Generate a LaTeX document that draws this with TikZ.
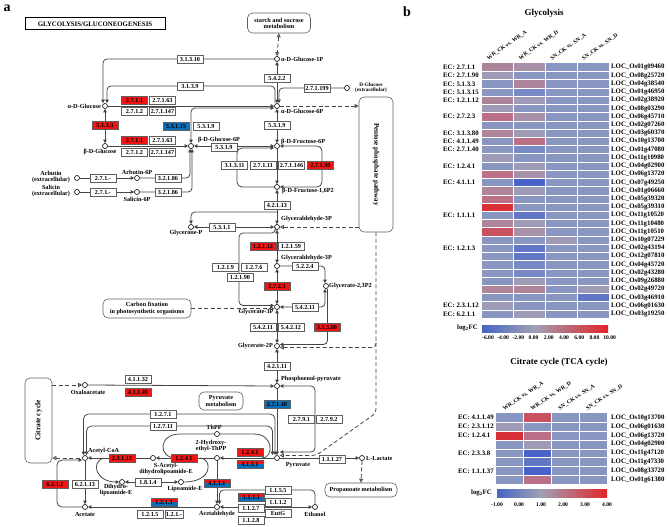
\documentclass[tikz,border=0pt]{standalone}
\usepackage{fontspec}
\setmainfont{Liberation Serif}
\usetikzlibrary{arrows.meta,positioning,calc}
\definecolor{keggred}{RGB}{240,20,20}
\definecolor{keggblue}{RGB}{10,110,185}
\definecolor{boxgray}{RGB}{95,95,95}
\definecolor{linegray}{RGB}{70,70,70}
% heatmap palette
\definecolor{hnb}{RGB}{138,150,194}
\definecolor{hgy}{RGB}{158,155,182}
\definecolor{hgm}{RGB}{166,145,168}
\definecolor{hmv}{RGB}{174,132,154}
\definecolor{hpk}{RGB}{186,112,134}
\definecolor{hrr}{RGB}{200,82,96}
\definecolor{hrd}{RGB}{216,48,54}
\definecolor{hlb}{RGB}{120,138,198}
\definecolor{hbl}{RGB}{98,118,198}
\definecolor{hdb}{RGB}{72,98,202}
\definecolor{cbblue}{RGB}{68,102,196}
\definecolor{cbgray}{RGB}{160,160,180}
\definecolor{cbred}{RGB}{226,36,40}
\newcommand{\kf}{\fontsize{6.2}{6.2}\selectfont\bfseries}
\newcommand{\hf}{\fontsize{6.8}{7}\selectfont\bfseries}
\newcommand{\hdf}{\fontsize{5.6}{6}\selectfont\bfseries}

\begin{document}
\begin{tikzpicture}[x=1pt, y=-1pt,
    >={Triangle[length=3.5pt,width=3.5pt]},
    met/.style={circle, draw, fill=white, line width=0.6pt, inner sep=0pt, minimum size=5pt},
    lbl/.style={font=\kf, inner sep=0pt, align=center},
    ec/.style={draw=boxgray, fill=white, line width=0.5pt, inner sep=0pt, minimum width=26pt, minimum height=8pt, font=\kf},
    ecr/.style={ec, fill=keggred},
    ecb/.style={ec, fill=keggblue},
    ecrb/.style={ec, fill=keggred, path picture={\fill[keggblue] (path picture bounding box.south west) rectangle ([yshift=4pt]path picture bounding box.south east);}},
    mapbox/.style={draw=boxgray, rounded corners=5pt, line width=0.6pt, align=center, font=\kf, inner sep=1pt},
    rxn/.style={draw=linegray, line width=0.8pt},
    dlink/.style={draw=linegray, line width=0.8pt, dash pattern=on 4pt off 2.5pt},
    odash/.style={dlink, -{Triangle[open,length=4pt,width=4pt]}},
    odashr/.style={dlink, {Triangle[open,length=4pt,width=4pt]}-},
    hmlbl/.style={font=\hf, inner sep=0pt, anchor=west},
    hdr/.style={font=\hdf, inner sep=0pt, anchor=south west, rotate=35},
    tick/.style={font=\hdf, inner sep=0pt},
]
\useasboundingbox (0,0) rectangle (669,527);

% ================= a : pathway map =================
\node[font=\fontsize{14}{14}\selectfont\bfseries, inner sep=0pt] (lbla) at (7,8) {a};
\node[draw, line width=1pt, minimum width=140pt, minimum height=12pt, inner sep=0pt, font=\fontsize{6.8}{7}\selectfont\bfseries] (title) at (95,24) {GLYCOLYSIS/GLUCONEOGENESIS};

% map links
\node[mapbox, minimum width=63pt, minimum height=20pt] (starch) at (279,23) {starch and sucrose\\metabolism};
\node[mapbox, minimum width=34pt, minimum height=135pt] (ppp) at (376,164.5) {};
\node[font=\fontsize{7}{7}\selectfont\bfseries, rotate=-90, inner sep=0pt] (ppptxt) at (ppp.center) {Pentose phosphate pathway};
\node[mapbox, minimum width=88pt, minimum height=19pt] (cfix) at (147,308.5) {Carbon fixation\\in photosynthetic organisms};
\node[mapbox, minimum width=44pt, minimum height=18pt] (pyrmet) at (221,401) {Pyruvate\\metabolism};
\node[mapbox, minimum width=27pt, minimum height=85pt] (tca) at (38.5,420.5) {};
\node[font=\fontsize{7.5}{7.5}\selectfont\bfseries, rotate=90, inner sep=0pt] (tcatxt) at (tca.center) {Citrate cycle};
\node[mapbox, minimum width=72pt, minimum height=14pt] (prop) at (361,490) {Propanoate metabolism};

% compounds
\node[met] (glc1p) at (277,59) {};
\node[lbl, anchor=west] (lglc1p) at (281,59) {α-D-Glucose-1P};
\node[met] (dglc) at (347,88) {};
\node[lbl, font=\fontsize{5.2}{5}\selectfont\bfseries] (ldglc) at (371,88) {D-Glucose\\(extracellular)};
\node[met] (aglc) at (105,106) {};
\node[lbl, anchor=east] (laglc) at (101,106) {α-D-Glucose};
\node[met] (g6p) at (277,106) {};
\node[lbl, anchor=west] (lg6p) at (281,111) {α-D-Glucose-6P};
\node[met] (bglc) at (105,146) {};
\node[lbl] (lbglc) at (100,152) {β-D-Glucose};
\node[met] (bg6p) at (191,146) {};
\node[lbl] (lbg6p) at (219,139.5) {β-D-Glucose-6P};
\node[met] (f6p) at (277,146) {};
\node[lbl, anchor=west] (lf6p) at (281,142) {β-D-Fructose-6P};
\node[met] (fbp) at (277,187) {};
\node[lbl, anchor=west] (lfbp) at (282,191) {β-D-Fructose-1,6P2};
\node[met] (arbe) at (77,178) {};
\node[lbl] (larbe) at (51,177) {Arbutin\\(extracellular)};
\node[met] (arb6p) at (137,178) {};
\node[lbl] (larb6p) at (137,172) {Arbutin-6P};
\node[met] (sale) at (77,192) {};
\node[lbl] (lsale) at (51,191) {Salicin\\(extracellular)};
\node[met] (sal6p) at (137,192) {};
\node[lbl] (lsal6p) at (137,199) {Salicin-6P};
\node[met] (gap) at (277,227) {};
\node[lbl, anchor=west] (lgap) at (281,219) {Glyceraldehyde-3P};
\node[met] (dhap) at (191,227) {};
\node[lbl] (ldhap) at (186,233) {Glycerone-P};
\node[met] (bpg) at (277,266) {};
\node[lbl, anchor=west] (lbpg) at (281,258) {Glyceraldehyde-3P};
\node[met] (g23p) at (326,286) {};
\node[lbl, anchor=west] (lg23p) at (329,286) {Glycerate-2,3P2};
\node[met] (g3p) at (277,307) {};
\node[lbl] (lg3p) at (256,312) {Glycerate-3P};
\node[met] (g2p) at (277,346) {};
\node[lbl, anchor=east] (lg2p) at (273,346) {Glycerate-2P};
\node[met] (pep) at (277,386) {};
\node[lbl, anchor=west] (lpep) at (281,379) {Phosphoenol-pyruvate};
\node[met] (pyr) at (277,458) {};
\node[lbl] (lpyr) at (298,465) {Pyruvate};
\node[met] (lac) at (362,458) {};
\node[lbl, anchor=west] (llac) at (366,458) {L-Lactate};
\node[met] (oaa) at (85,385) {};
\node[lbl] (loaa) at (88,392) {Oxaloacetate};
\node[met] (accoa) at (85,458) {};
\node[lbl, anchor=west] (laccoa) at (88,451) {Acetyl-CoA};
\node[met] (thpp) at (217,434) {};
\node[lbl] (lthpp) at (214,427) {ThPP};
\node[met] (hethpp) at (217,458) {};
\node[lbl] (lhethpp) at (211,446) {2-Hydroxy-\\ethyl-ThPP};
\node[met] (sacet) at (153,458) {};
\node[lbl] (lsacet) at (166,469) {S-Acetyl-\\dihydrolipoamide-E};
\node[met] (dhlip) at (122,482) {};
\node[lbl] (ldhlip) at (116,490) {Dihydro-\\lipoamide-E};
\node[met] (lip) at (181,482) {};
\node[lbl] (llip) at (185,489) {Lipoamide-E};
\node[met] (acald) at (217,507) {};
\node[lbl] (lacald) at (217,514) {Acetaldehyde};
\node[met] (acet) at (85,507) {};
\node[lbl] (lacet) at (85,514) {Acetate};
\node[met] (etoh) at (315,507) {};
\node[lbl] (letoh) at (315,514) {Ethanol};

% reactions: glucose / glucose-6P
\draw[dlink, {Triangle[open,length=4pt,width=4pt]}-{Triangle[open,length=4pt,width=4pt]}] (starch.south) -- (glc1p.north);
\draw[rxn, ->, rounded corners=4pt] (glc1p.west) -| ([xshift=-2pt]aglc.north);
\draw[rxn, <->] (glc1p.south) -- (g6p.north);
\draw[rxn, ->, rounded corners=4pt] ([xshift=-2pt]g6p.north) |- (150,86) -| ([xshift=2pt]aglc.north);
\draw[rxn, ->, rounded corners=4pt] (dglc.west) -| ([xshift=2pt]g6p.north);
\draw[rxn, ->] (aglc.east) -- (g6p.west);
\draw[rxn, <->, rounded corners=4pt] (bg6p.north) |- ([yshift=-2pt]g6p.west);
\draw[odash] (g6p.east) -- (g6p.east -| ppp.west);
\draw[rxn, <->] (aglc.south) -- (bglc.north);
\draw[rxn, ->] (bglc.east) -- (bg6p.west);
\draw[rxn, <->] (bg6p.east) -- (f6p.west);
\draw[rxn, <->] (g6p.south) -- (f6p.north);
\draw[rxn, ->] (arbe.east) -- (arb6p.west);
\draw[rxn, ->, rounded corners=4pt] (arb6p.east) -| ([xshift=-1pt]bg6p.south);
\draw[rxn, ->] (sale.east) -- (sal6p.west);
\draw[rxn, ->, rounded corners=4pt] (sal6p.east) -| ([xshift=1pt]bg6p.south);

% fructose and trioses
\draw[rxn, ->] (f6p.south) -- (fbp.north);
\draw[rxn, ->, rounded corners=5pt] (fbp.west) -| (237,148) -- ([yshift=-2pt]f6p.west);
\draw[rxn, <->, rounded corners=5pt] (f6p.east) -| (322,187) -- (fbp.east);
\draw[rxn, <->] (fbp.south) -- (gap.north);
\coordinate (aldol) at (277,212);
\draw[rxn, ->, rounded corners=4pt] (aldol) -| (dhap.north);
\draw[rxn, <->] (gap.west) -- (dhap.east);
\draw[odashr] (gap.east) -- (gap.east -| ppp.west);
\draw[rxn, <->] (gap.south) -- (bpg.north);
\draw[rxn, ->, rounded corners=4pt] ([xshift=-1.5pt]gap.south) |- (239,233) |- ([yshift=1.5pt]g3p.west);
\draw[rxn, <->] (bpg.south) -- (g3p.north);
\draw[rxn, ->, rounded corners=4pt] (bpg.east) -| ([xshift=-1pt]g23p.north);
\draw[rxn, <->, rounded corners=4pt] (g3p.east) -| ([xshift=-1pt]g23p.south);
\draw[rxn, ->, rounded corners=4pt] ([xshift=1.5pt]g23p.south) |- ([yshift=1.5pt]g2p.east);
\draw[odash] (cfix.east) -- ([yshift=-1.5pt]g3p.west);
\draw[rxn, <->] (g3p.south) -- (g2p.north);
\draw[rxn, <->] (g2p.south) -- (pep.north);
\draw[odashr, rounded corners=4pt] ([yshift=-1.5pt]g2p.east) -| (376,340);
\draw[odash, rounded corners=4pt] (ppp.south) -- (376,413) -- (316,455.5) -- ([yshift=2.5pt]pyr.east);

% pyruvate
\draw[rxn, ->] (oaa.east) -- (pep.west);
\draw[odash] (tca.east |- oaa) -- (oaa.west);
\draw[rxn, ->] (pep.south) -- (pyr.north);
\draw[rxn, <->, rounded corners=4pt] (pep.east) -| (315,452) -- ([yshift=6pt]pyr.east);
\draw[rxn, <->, rounded corners=5pt] ([xshift=-2pt]pyr.north) |- (150,414) -| ([xshift=-1.5pt]accoa.north);
\draw[rxn, <->, rounded corners=5pt] ([xshift=-4.5pt]pyr.north) |- (150,426) -| ([xshift=1.5pt]accoa.north);
\draw[odashr] (tca.east |- accoa) -- (accoa.west);
\draw[rxn, ->] (sacet.west) -- (accoa.east);
\draw[rxn, ->] (pyr.west) -- (hethpp.east);
\draw[rxn, ->] (hethpp.west) -- (sacet.east);
\coordinate (thl) at (176,458);
\coordinate (thr) at (262,458);
\draw[rxn] (thpp.west) -- (180,434) .. controls (158,434) and (158,458) .. (thl);
\draw[rxn] (thpp.east) -- (254,434) .. controls (274,434) and (274,458) .. (thr);
\coordinate (lipl) at (104,458);
\coordinate (lipr) at (200,458);
\draw[rxn, ->] (lipl) .. controls (90,462) and (96,482) .. (dhlip.west);
\draw[rxn, <->] (dhlip.east) -- (lip.west);
\draw[rxn] (lip.east) .. controls (214,482) and (212,458) .. (lipr);
\draw[rxn, ->] (accoa.south) -- (acet.north);
\draw[rxn, ->, rounded corners=5pt] (acet.west) -| (57,460) -- ([yshift=-2pt]accoa.west);
\draw[rxn, ->] (hethpp.south) -- (acald.north);
\draw[rxn, ->] (acald.west) -- (acet.east);
\draw[rxn, <->] (acald.east) -- (etoh.west);
\draw[rxn, ->, rounded corners=4pt] (etoh.north) |- (240,490) -| ([xshift=2.5pt]acald.north);
\draw[rxn, ->] (pyr.east) -- (lac.west);
\draw[odash] (lac.south) -- (prop.north);

% enzymes
\node[ec] (e31310) at (190,59) {3.1.3.10};
\node[ec] (e5422) at (277,78) {5.4.2.2};
\node[ec] (e3139) at (190,86) {3.1.3.9};
\node[ec] (e271199) at (317,88) {2.7.1.199};
\node[ecr] (e2711a) at (134.5,100) {2.7.1.1};
\node[ec] (e27163a) at (162.5,100) {2.7.1.63};
\node[ec] (e2712a) at (134.5,111.5) {2.7.1.2};
\node[ec] (e271147a) at (162.5,111.5) {2.7.1.147};
\node[ecr] (e5133) at (105,125) {5.1.3.3};
\node[ecb] (e53115) at (176,126) {5.3.1.15};
\node[ec] (e5319a) at (206,126) {5.3.1.9};
\node[ec] (e5319b) at (277,125) {5.3.1.9};
\node[ecr] (e2711b) at (134.5,140) {2.7.1.1};
\node[ec] (e27163b) at (162.5,140) {2.7.1.63};
\node[ec] (e2712b) at (134.5,152) {2.7.1.2};
\node[ec] (e271147b) at (162.5,152) {2.7.1.147};
\node[ec] (e5319c) at (224,147.5) {5.3.1.9};
\node[ec] (e271a) at (103,178) {2.7.1.-};
\node[ec] (e32186a) at (168,178) {3.2.1.86};
\node[ec] (e271b) at (103,192) {2.7.1.-};
\node[ec] (e32186b) at (168,192) {3.2.1.86};
\node[ec] (e31311) at (234.5,165) {3.1.3.11};
\node[ec] (e27111) at (263,165) {2.7.1.11};
\node[ec] (e271146) at (291.5,165) {2.7.1.146};
\node[ecr] (e27190) at (320.5,165) {2.7.1.90};
\node[ec] (e42113) at (277,205) {4.2.1.13};
\node[ec] (e5311) at (222,227) {5.3.1.1};
\node[ecr] (e12112) at (263,246) {1.2.1.12};
\node[ec] (e12159) at (291,246) {1.2.1.59};
\node[ec] (e1219) at (225.5,267) {1.2.1.9};
\node[ec] (e1276) at (254,267) {1.2.7.6};
\node[ec] (e12190) at (240,277) {1.2.1.90};
\node[ec] (e5224) at (305,266) {5.2.2.4};
\node[ecr] (e2723) at (277,286) {2.7.2.3};
\node[ec] (e54211a) at (305,307) {5.4.2.11};
\node[ec] (e54211b) at (263,327) {5.4.2.11};
\node[ec] (e54212) at (291,327) {5.4.2.12};
\node[ecr] (e31380) at (327,327) {3.1.3.80};
\node[ec] (e42111) at (277,366) {4.2.1.11};
\node[ecb] (e27140) at (277,404) {2.7.1.40};
\node[ec] (e2791) at (301.5,419) {2.7.9.1};
\node[ec] (e2792) at (329,419) {2.7.9.2};
\node[ec] (e11127) at (332,459) {1.1.1.27};
\node[ec] (e41132) at (138,379) {4.1.1.32};
\node[ecr] (e41149) at (138,392) {4.1.1.49};
\node[ec] (e1271) at (163,414) {1.2.7.1};
\node[ec] (e12711) at (163,426) {1.2.7.11};
\node[ecr] (e1241a) at (250,452) {1.2.4.1};
\node[ecrb] (e4111a) at (250,464) {4.1.1.1};
\node[ecr] (e1241b) at (184,458) {1.2.4.1};
\node[ecr] (e23112) at (122,458) {2.3.1.12};
\node[ec] (e62113) at (85,484) {6.2.1.13};
\node[ecr] (e6211) at (55,484) {6.2.1.1};
\node[ec] (e1814) at (148,482) {1.8.1.4};
\node[ecrb] (e4111b) at (217,483) {4.1.1.1};
\node[ecrb] (e1213) at (164,502) {1.2.1.3};
\node[ec] (e1215) at (150,514) {1.2.1.5};
\node[ec, minimum width=18pt] (e121x) at (174,514) {1.2.1.-};
\node[ecrb] (e1111) at (251.5,497) {1.1.1.1};
\node[ec] (e1155) at (278,490) {1.1.5.5};
\node[ec] (e1112) at (278,502) {1.1.1.2};
\node[ec] (e1127) at (251,508.5) {1.1.2.7};
\node[ec] (eeutg) at (278,513.5) {EutG};
\node[ec] (e1128) at (251,520) {1.1.2.8};

% ================= b : heatmaps =================
\node[font=\fontsize{14}{14}\selectfont\bfseries, inner sep=0pt] (lblb) at (407,12) {b};
\node[font=\fontsize{9}{9}\selectfont\bfseries, inner sep=0pt] (tglyc) at (544,13) {Glycolysis};
\foreach \c/\t in {1/WR\_CK vs. WR\_A, 2/WR\_CK vs. WR\_D, 3/SN\_CK vs. SN\_A, 4/SN\_CK vs. SN\_D}
    \node[hdr] (hg\c) at ({482+(\c-1)*31.7+7},61) {\t};
\foreach \ca/\cb/\cc/\cd [count=\i] in {hmv/hgm/hnb/hnb, hgy/hnb/hnb/hnb, hnb/hmv/hnb/hnb, hnb/hlb/hnb/hnb,
    hmv/hgy/hnb/hnb, hgy/hnb/hnb/hnb, hpk/hgm/hnb/hnb, hnb/hnb/hnb/hnb, hmv/hgy/hnb/hnb, hnb/hpk/hnb/hnb,
    hnb/hlb/hnb/hnb, hgy/hnb/hnb/hnb, hnb/hgy/hnb/hnb, hpk/hgm/hnb/hnb, hnb/hdb/hnb/hnb, hmv/hgy/hnb/hnb,
    hpk/hnb/hnb/hnb, hrd/hnb/hnb/hnb, hnb/hbl/hnb/hnb, hmv/hgy/hnb/hnb, hrr/hgm/hnb/hnb, hnb/hnb/hgy/hnb,
    hnb/hbl/hnb/hnb, hnb/hbl/hnb/hnb, hnb/hlb/hnb/hnb, hnb/hlb/hnb/hnb, hnb/hgy/hnb/hnb, hmv/hmv/hnb/hgy,
    hnb/hnb/hnb/hbl, hgy/hnb/hnb/hnb, hnb/hgy/hnb/hnb} {
    \pgfmathsetmacro{\yy}{63.3+(\i-1)*8.22}
    \fill[fill=\ca] (482,\yy) rectangle ++(31.7,8.22);
    \fill[fill=\cb] (513.7,\yy) rectangle ++(31.7,8.22);
    \fill[fill=\cc] (545.4,\yy) rectangle ++(31.7,8.22);
    \fill[fill=\cd] (577.1,\yy) rectangle ++(31.7,8.22);
}
\foreach \c in {1,2,3} \draw[white, line width=0.8pt] ({482+\c*31.7},63.3) -- ++(0,254.8);
\foreach \r in {1,...,30} \draw[white, line width=0.6pt] (482,{63.3+\r*8.22}) -- ++(126.8,0);
\foreach \r/\e in {1/2.7.1.1, 2/2.7.1.90, 3/5.1.3.3, 4/5.1.3.15, 5/1.2.1.12, 7/2.7.2.3, 9/3.1.3.80, 10/4.1.1.49,
    11/2.7.1.40, 13/1.2.4.1, 15/4.1.1.1, 19/1.1.1.1, 23/1.2.1.3, 30/2.3.1.12, 31/6.2.1.1}
    \node[hmlbl] (ecg\r) at (443,{63.3+(\r-0.5)*8.22}) {EC: \e};
\foreach \g [count=\i] in {Os01g09460, Os08g25720, Os04g38540, Os01g46950, Os02g38920, Os08g03290, Os06g45710,
    Os02g07260, Os03g60370, Os10g13700, Os01g47080, Os11g10980, Os04g02900, Os06g13720, Os07g49250, Os01g06660,
    Os05g39320, Os05g39310, Os11g10520, Os11g10480, Os11g10510, Os10g07229, Os02g43194, Os12g07810, Os04g45720,
    Os02g43280, Os09g26880, Os02g49720, Os03g46910, Os06g01630, Os03g19250}
    \node[hmlbl] (locg\i) at (611,{63.3+(\i-0.5)*8.22}) {LOC\_\g};
% glycolysis colour bar
\shade[left color=cbblue, right color=cbgray] (482,325) rectangle (534,332);
\shade[left color=cbgray, right color=cbred] (534,325) rectangle (608,332);
\node[hmlbl, anchor=east] (cbglbl) at (478,328) {log\textsubscript{2}FC};
\foreach \v [count=\i] in {-6.00,-4.00,-2.00,0.00,2.00,4.00,6.00,8.00,10.00}
    \node[tick] (tkg\i) at ({488+(\i-1)*15.2},338) {\v};

% citrate cycle heatmap
\node[font=\fontsize{9}{9}\selectfont\bfseries, inner sep=0pt] (ttca) at (559,362) {Citrate cycle (TCA cycle)};
\foreach \c/\t in {1/WR\_CK vs. WR\_A, 2/WR\_CK vs. WR\_D, 3/SN\_CK vs. SN\_A, 4/SN\_CK vs. SN\_D}
    \node[hdr, rotate=-2] (ht\c) at ({495.7+(\c-1)*27.75+9},411) {\t};
\foreach \ca/\cb/\cc/\cd [count=\i] in {hnb/hrr/hnb/hnb, hgy/hnb/hnb/hnb, hrd/hpk/hnb/hnb, hnb/hgy/hnb/hnb,
    hnb/hdb/hnb/hnb, hnb/hbl/hnb/hnb, hnb/hdb/hnb/hnb, hnb/hpk/hnb/hnb} {
    \pgfmathsetmacro{\yy}{413.3+(\i-1)*8.875}
    \fill[fill=\ca] (495.7,\yy) rectangle ++(27.75,8.875);
    \fill[fill=\cb] (523.45,\yy) rectangle ++(27.75,8.875);
    \fill[fill=\cc] (551.2,\yy) rectangle ++(27.75,8.875);
    \fill[fill=\cd] (578.95,\yy) rectangle ++(27.75,8.875);
}
\foreach \c in {1,2,3} \draw[white, line width=0.8pt] ({495.7+\c*27.75},413.3) -- ++(0,71);
\foreach \r in {1,...,7} \draw[white, line width=0.6pt] (495.7,{413.3+\r*8.875}) -- ++(111,0);
\foreach \r/\e in {1/4.1.1.49, 2/2.3.1.12, 3/1.2.4.1, 5/2.3.3.8, 7/1.1.1.37}
    \node[hmlbl] (ect\r) at (458,{413.3+(\r-0.5)*8.875}) {EC: \e};
\foreach \g [count=\i] in {Os10g13700, Os06g01630, Os06g13720, Os04g02900, Os11g47120, Os11g47330, Os08g33720, Os01g61380}
    \node[hmlbl] (loct\i) at (611,{413.3+(\i-0.5)*8.875}) {LOC\_\g};
% citrate colour bar
\shade[left color=cbblue, right color=cbgray] (497,489) rectangle (541,497);
\shade[left color=cbgray, right color=cbred] (541,489) rectangle (607,497);
\node[hmlbl, anchor=east] (cbtlbl) at (492,493) {log\textsubscript{2}FC};
\foreach \v [count=\i] in {-1.00,0.00,1.00,2.00,3.00,4.00}
    \node[tick] (tkt\i) at ({497+(\i-1)*22},505) {\v};
\end{tikzpicture}
\end{document}
